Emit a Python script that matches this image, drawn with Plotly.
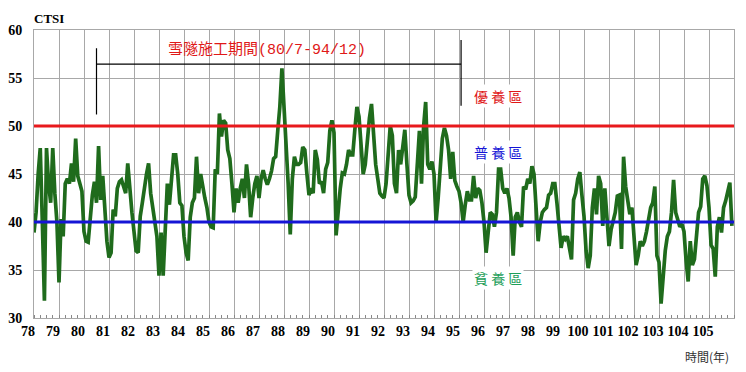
import plotly.graph_objects as go

# ROC years shown on the x axis (each year = 12 monthly samples)
years = list(range(78, 106))
year_labels = [str(y) for y in years]

# Monthly CTSI values, one list per year (78 .. 105)
ctsi_by_year = [
    [38.9, 41, 45, 47.7, 40, 31.8, 47.7, 44, 42, 47.7, 43, 40],          # 78
    [33.7, 40.3, 38.5, 44, 44.5, 44, 46.1, 44.2, 48.7, 44.8, 44, 43.2],   # 79
    [39, 38, 37.9, 41, 42.8, 44.2, 42, 47.9, 42.3, 44.8, 41.7, 38],       # 80
    [36.3, 36.8, 41.3, 40.6, 43.5, 44.2, 44.4, 43.5, 43, 46.1, 43, 41],   # 81
    [39, 37, 36.8, 40.6, 42, 43.7, 45, 46.1, 43, 41.5, 40, 38.5],         # 82
    [34.4, 38.9, 34.4, 40.3, 44, 41.8, 44.1, 47, 47, 45, 42, 41.7],       # 83
    [38.5, 36.8, 36, 40.5, 42, 42.5, 46.8, 43, 45, 43.5, 42.5, 41.5],     # 84
    [40, 39.5, 39.4, 45.5, 45, 51.3, 48.9, 50.6, 50.3, 47.5, 46.6, 44],   # 85
    [41, 43.5, 42, 43.5, 44.5, 42.5, 46, 44, 40.5, 42.5, 44, 44.8],       # 86
    [42.5, 44.5, 45.4, 44.5, 43.9, 44.5, 45.3, 46.6, 46.8, 49.5, 52, 56], # 87
    [52.3, 49, 44, 38.7, 44.5, 46.8, 46, 46, 46.2, 47.8, 47.5, 45],       # 88
    [42.8, 43.5, 43, 47.5, 46.5, 44, 44.2, 43, 45.5, 46.2, 49.5, 50.6],   # 89
    [49.3, 38.6, 41.5, 43.5, 45.1, 45, 46, 47.5, 47, 47, 49.6, 52],       # 90
    [51, 47.5, 45, 46, 48.5, 50.8, 52.3, 48.5, 46, 44.5, 43, 42.7],       # 91
    [42.5, 44, 47, 50, 49, 44, 43, 47.5, 46, 48, 49.6, 46],               # 92
    [42.8, 42, 42.2, 42.6, 46.5, 49.5, 44, 49.9, 52.5, 46, 45.5, 46.3],   # 93
    [45, 40, 42.5, 46.3, 48.7, 49.8, 49, 47.5, 44.5, 47.3, 44.3, 43.7],   # 94
    [43.2, 42, 40, 41.8, 43.2, 42.3, 42.3, 44.8, 42.5, 43.5, 43.3, 42],   # 95
    [40, 36.8, 39, 41, 40.8, 39.5, 41, 45.5, 45.5, 43.5, 43, 43.5],       # 96
    [42.5, 40.5, 36.5, 40.5, 41, 40, 39.5, 43.7, 43.4, 44.5, 44, 45.8],   # 97
    [45, 40.6, 38, 40, 41, 41.3, 41.5, 42.8, 43, 44, 44, 42],             # 98
    [40, 37.3, 38.5, 38.2, 38.5, 37.5, 36.1, 42.3, 43, 44.5, 45.2, 42.8], # 99
    [40.6, 37, 35.2, 36.5, 41.5, 43.5, 40.8, 44.8, 44, 39.6, 43.5, 40.5], # 100
    [37.5, 39.2, 40.3, 41, 42.7, 42.8, 37.2, 46.8, 43.7, 42.5, 40.8, 41.5], # 101
    [38.8, 35.5, 36.5, 38, 37.5, 38, 39, 40.5, 41.5, 42, 43.7, 36.5],     # 102
    [35.8, 31.5, 34.5, 37, 38.5, 39, 41, 44.4, 41, 40.3, 39.5, 39.8],     # 103
    [39, 36, 33.8, 38, 35.5, 36.1, 39, 41, 41.6, 44.5, 44.8, 43.8],       # 104
    [41.5, 37.6, 37.2, 34.3, 39.5, 40.5, 38.9, 41.5, 42.2, 43, 44.1, 39.6], # 105
]

ctsi = [v for yr in ctsi_by_year for v in yr]
month_index = list(range(len(ctsi)))

eutrophic_limit = 50
oligotrophic_limit = 40

# construction period 80/7 - 94/12
period_start = (80 - years[0]) * 12 + 6
period_end = (94 - years[0]) * 12 + 12
n_months = len(years) * 12

grid_col = "#a8a8a8"
serif = "Liberation Serif, Times New Roman, serif"
cjk = "Noto Sans CJK TC, Noto Sans CJK SC, sans-serif"
mono = "Liberation Mono, DejaVu Sans Mono, monospace"

fig = go.Figure()
fig.add_trace(go.Scatter(
    x=month_index, y=ctsi, mode="lines",
    line=dict(color="#1f6b1c", width=3.7),
    showlegend=False, hoverinfo="skip",
))

# threshold lines
fig.add_shape(type="line", xref="paper", x0=0, x1=1, yref="y",
              y0=eutrophic_limit, y1=eutrophic_limit,
              line=dict(color="#e8191c", width=3))
fig.add_shape(type="line", xref="paper", x0=0, x1=1, yref="y",
              y0=oligotrophic_limit, y1=oligotrophic_limit,
              line=dict(color="#1515d6", width=3))

# bracket for construction period
br_col = "black"
fig.add_shape(type="line", x0=period_start, x1=period_end + 1, y0=56.45, y1=56.45,
              line=dict(color=br_col, width=1.2))
fig.add_shape(type="line", x0=period_start, x1=period_start, y0=51.2, y1=58.1,
              line=dict(color=br_col, width=1.2))
fig.add_shape(type="line", x0=period_end + 1, x1=period_end + 1, y0=52.1, y1=58.95,
              line=dict(color=br_col, width=1.2))

fig.add_annotation(x=(period_start + period_end) / 2 - 5, y=58.1,
                   text=f"雪隧施工期間<span style=\"font-family:{mono}\">(80/7-94/12)</span>",
                   showarrow=False,
                   font=dict(family=cjk, size=15, color="#e01818"))

zone_x = 222.5
fig.add_annotation(x=zone_x, y=53.1, text="優 養 區", showarrow=False,
                   bgcolor="white",
                   font=dict(family=cjk, size=14, color="#e01818"))
fig.add_annotation(x=zone_x, y=47.3, text="普 養 區", showarrow=False,
                   bgcolor="white",
                   font=dict(family=cjk, size=14, color="#1515d6"))
fig.add_annotation(x=zone_x, y=34.2, text="貧 養 區", showarrow=False,
                   bgcolor="white",
                   font=dict(family=cjk, size=14, color="#1ea05a"))

fig.add_annotation(xref="paper", yref="paper", x=-0.003, y=1.073,
                   xanchor="left", yanchor="top", text="<b>CTSI</b>",
                   showarrow=False, font=dict(family=serif, size=13, color="black"))
fig.add_annotation(xref="paper", yref="paper", x=0.995, y=-0.135,
                   xanchor="right", yanchor="middle", text="時間(年)",
                   showarrow=False, font=dict(family=cjk, size=12, color="#333333"))

fig.update_xaxes(
    range=[0, n_months], automargin=False,
    tickvals=[i * 12 for i in range(len(years))],
    ticktext=[f"<b>{t}</b>" for t in year_labels],
    tickfont=dict(family=serif, size=14, color="black"),
    ticklabelshift=-6,
    ticks="", showgrid=True, gridcolor=grid_col, gridwidth=1,
    showline=True, linecolor=grid_col, linewidth=1, mirror=True,
    minor=dict(dtick=3, tick0=0, ticks="inside", ticklen=3,
               tickcolor="#888888", showgrid=False),
    zeroline=False,
)
fig.update_yaxes(
    range=[30, 60], dtick=5, automargin=False,
    tickfont=dict(family=serif, size=14, color="black"),
    tickprefix="<b>", ticksuffix="</b>",
    ticks="outside", ticklen=8, tickcolor="rgba(0,0,0,0)",
    showgrid=True, gridcolor=grid_col, gridwidth=1,
    showline=True, linecolor=grid_col, linewidth=1, mirror=True,
    zeroline=False,
)
# the page body adds an 8 px offset; margins compensate so the plot area
# sits at x 34-734, y 30-318 in the window
fig.update_layout(
    width=738, height=364,
    margin=dict(l=26, r=12, t=22, b=54),
    plot_bgcolor="white", paper_bgcolor="white",
)
fig.write_html("out.html")
